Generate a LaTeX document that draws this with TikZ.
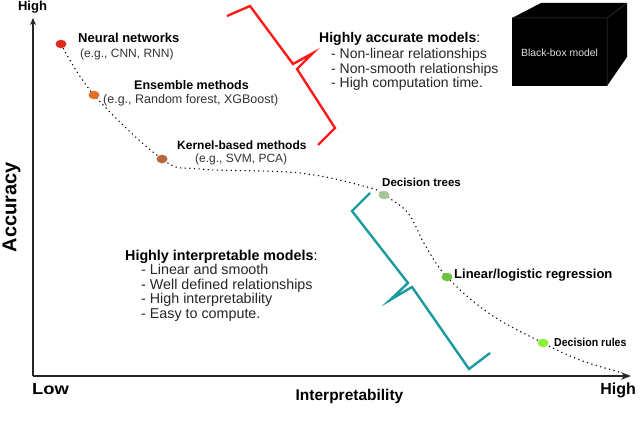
\documentclass[tikz,border=0pt]{standalone}
\usepackage{fontspec}
\setmainfont{Liberation Sans}
\usetikzlibrary{arrows.meta,shapes.geometric}
\definecolor{nnred}{HTML}{E02A1E}
\definecolor{ensor}{HTML}{E0702A}
\definecolor{kerbr}{HTML}{B8663A}
\definecolor{dtgr}{HTML}{A3C893}
\definecolor{lingr}{HTML}{6CC43A}
\definecolor{drgr}{HTML}{8CF03C}
\definecolor{brred}{HTML}{FF1A1A}
\definecolor{brteal}{HTML}{1A9A9E}
\definecolor{txtgray}{HTML}{333333}
\newcommand{\fs}[1]{\fontsize{#1}{#1}\selectfont}
\begin{document}
\begin{tikzpicture}[x=1pt,y=-1pt,
  axisline/.style={line width=1.8pt,color=black!85},
  dotnode/.style={ellipse,minimum width=11pt,minimum height=8.5pt,inner sep=0pt,draw=none},
  lbl/.style={anchor=base west,inner sep=0pt},
  curve/.style={line width=1.1pt,dash pattern=on 1.2pt off 3.4pt},
  bracketline/.style={line width=2.4pt,line join=miter}
]
\useasboundingbox (0,0) rectangle (640,428);
% axes
\coordinate (o) at (33,376);
\coordinate (ytop) at (33,18);
\coordinate (xend) at (631,376);
\draw[axisline,-{Stealth[length=7pt,width=6pt]}] (o) -- (ytop);
\draw[axisline,-{Stealth[length=10pt,width=7.5pt]}] (o) -- (xend);
\node[font=\fs{13}\bfseries] (yhigh) at (32.5,7) {High};
\node[lbl,font=\fs{16}\bfseries,xscale=1.15] (xlow) at (32,394) {Low};
\node[anchor=base east,inner sep=0pt,font=\fs{16}\bfseries] (xhigh) at (636,394) {High};
\node[anchor=base,inner sep=0pt,font=\fs{15.5}\bfseries] (xlab) at (349.5,400) {Interpretability};
\node[font=\fs{20}\bfseries,rotate=90] (ylab) at (11.5,207) {Accuracy};
% curve
\draw[curve] plot[smooth,tension=0.6] coordinates {(61,44) (94,95) (162,159) (200,169) (300,173) (367,187) (384,195) (408,213) (425,245) (447,277) (490,314) (543,343) (580,360) (619,372)};
% dots
\node[dotnode,fill=nnred] (nn) at (61,44) {};
\node[dotnode,fill=ensor] (en) at (94,95) {};
\node[dotnode,fill=kerbr] (ke) at (162,159) {};
\node[dotnode,fill=dtgr] (dt) at (384,195) {};
\node[dotnode,fill=lingr] (lr) at (447,277) {};
\node[dotnode,fill=drgr] (dr) at (543,343) {};
% labels
\node[lbl,font=\fs{13}\bfseries] (nnl) at (78,42.8) {Neural networks};
\node[lbl,font=\fs{12},text=txtgray] (nns) at (80,57.4) {(e.g., CNN, RNN)};
\node[lbl,font=\fs{12.5}\bfseries] (enl) at (134,89.6) {Ensemble methods};
\node[lbl,font=\fs{12.5},text=txtgray] (ens) at (103,103.6) {(e.g., Random forest, XGBoost)};
\node[lbl,font=\fs{12}\bfseries] (kel) at (177,149.4) {Kernel-based methods};
\node[lbl,font=\fs{12},text=txtgray] (kes) at (195,162.4) {(e.g., SVM, PCA)};
\node[lbl,font=\fs{11.5}\bfseries] (dtl) at (382,186.3) {Decision trees};
\node[lbl,font=\fs{13}\bfseries] (lrl) at (454,278.8) {Linear/logistic regression};
\node[lbl,font=\fs{11.5}\bfseries,xscale=0.92] (drl) at (554,346.3) {Decision rules};
% red bracket
\draw[bracketline,brred] (227,16) -- (250,6) -- (293,64) -- (313,53) -- (297,69) -- (335,128) -- (318,145);
% accurate text
\node[lbl,font=\fs{14}] (acc0) at (319,42.2) {\textbf{Highly accurate models}:};
\node[lbl,font=\fs{14},text=black!85] (acc1) at (331,58.2) {- Non-linear relationships};
\node[lbl,font=\fs{14},text=black!85] (acc2) at (331,73.2) {- Non-smooth relationships};
\node[lbl,font=\fs{14},text=black!85] (acc3) at (331,87.2) {- High computation time.};
% teal bracket
\draw[bracketline,brteal] (370,193) -- (352,211) -- (408,283) -- (390,300) -- (412,287) -- (469,369) -- (490,353);
% interpretable text
\node[lbl,font=\fs{14.3}] (int0) at (125,260.3) {\textbf{Highly interpretable models}:};
\node[lbl,font=\fs{14.3},text=black!85] (int1) at (141,274.8) {- Linear and smooth};
\node[lbl,font=\fs{14.3},text=black!85] (int2) at (141,289.3) {- Well defined relationships};
\node[lbl,font=\fs{14.3},text=black!85] (int3) at (141,303.8) {- High interpretability};
\node[lbl,font=\fs{14.3},text=black!85] (int4) at (141,318.3) {- Easy to compute.};
% black box cube
\fill[black] (512,18) -- (541,3) -- (627,3) -- (627,57) -- (607,86) -- (512,86) -- cycle;
\draw[black!75,line width=0.5pt] (512,18) -- (607,18) -- (627,3) (607,18) -- (607,86);
\node[text=black!12,font=\fs{10.4}] (bb) at (559.5,53) {Black-box model};
\end{tikzpicture}
\end{document}
